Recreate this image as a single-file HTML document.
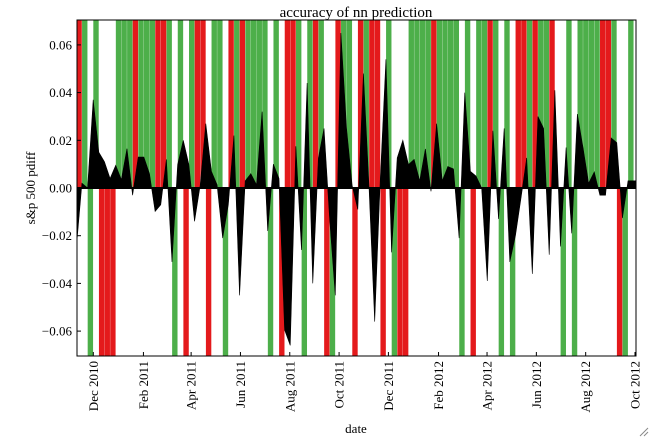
<!DOCTYPE html>
<html><head><meta charset="utf-8"><style>
body{margin:0;background:#fff;width:651px;height:438px;overflow:hidden}
svg text{font-family:"Liberation Serif",serif;fill:#000}
</style></head><body>
<svg id="chart" width="651" height="438" xmlns="http://www.w3.org/2000/svg">
<text x="356" y="17" font-size="15" text-anchor="middle">accuracy of nn prediction</text>
<g id="bars"></g>
<g id="series"></g>
<g id="axes"></g>
<text transform="translate(35,188) rotate(-90)" font-size="13" text-anchor="middle">s&amp;p 500 pdiff</text>
<text x="356" y="433" font-size="13" text-anchor="middle">date</text>
<g stroke="#888" stroke-width="1"><line x1="640" y1="436" x2="648" y2="428"/><line x1="644" y1="436" x2="648" y2="432"/></g>
</svg>
<script>
const values=[-0.022,0.002,0.000,0.037,0.015,0.011,0.004,0.0095,0.0035,0.0165,-0.003,0.013,0.013,0.006,-0.0098,-0.007,0.012,-0.031,0.0098,0.020,0.0098,-0.014,0.001,0.027,0.007,0.0014,-0.021,-0.007,0.022,-0.045,0.003,0.006,0.0014,0.032,-0.018,0.010,0.004,-0.0595,-0.066,0.0175,-0.026,0.044,-0.040,0.0126,0.025,-0.013,-0.045,0.065,0.025,0.001,-0.009,0.048,0.000,-0.056,0.004,0.054,-0.027,0.0126,0.020,0.0098,0.012,0.003,0.0164,-0.0014,0.027,0.003,0.009,0.008,-0.021,0.040,0.007,0.005,0.000,-0.039,0.024,-0.013,0.025,-0.031,-0.020,-0.004,0.0126,-0.036,0.030,0.025,-0.028,0.041,-0.0245,0.017,-0.019,0.031,0.017,0.002,0.0067,-0.003,-0.003,0.021,0.019,-0.0126,0.003,0.003];
// bar code per week: T/B = top/bottom half, g/r = correct/incorrect, n = none
const barCodes=["Tr","Tg","Bg","Tg","Br","Br","Br","Tg","Tg","Tg",
"Tr","Tg","Tg","Tg","Tr","Tr","Tg","Bg","Tg","Br",
"Tg","Tr","Tr","Br","Tg","Tg","Bg","Tr","Tg","Tr",
"Tg","Tg","Tg","Tg","Bg","Tg","Br","Tr","Tr","Tg",
"Bg","Tg","Tr","Tg","Br","Bg","Tr","Tg","Tg","Br",
"Tr","Tg","Tr","Tr","Br","Tg","Bg","Br","Br","Tg",
"Tg","Tg","Tg","Tr","Tg","Tg","Tg","Tg","Bg","Tg",
"Br","Tg","Tg","Tr","Tg","Bg","Tg","Bg","Tr","Tr",
"Tg","Tr","Tg","Tg","Tr","n","Bg","Tg","Bg","Tg",
"Tg","Tg","Tg","Tr","Tr","Tg","Br","Bg","Tg","n"];
const yTicks=[0.06,0.04,0.02,0.00,-0.02,-0.04,-0.06];
const yTickLabels=["0.06","0.04","0.02","0.00","\u22120.02","\u22120.04","\u22120.06"];
const xTickDays=[0,62,121,182,243,304,365,427,487,548,609,670];
const xTickLabels=["Dec 2010","Feb 2011","Apr 2011","Jun 2011","Aug 2011","Oct 2011","Dec 2011","Feb 2012","Apr 2012","Jun 2012","Aug 2012","Oct 2012"];
const NS="http://www.w3.org/2000/svg";
const L=77,R=636,T=20,B=356;
const y=v=>188-v/0.02*47.7;
const xi=i=>76.3+i*5.63;
const xd=d=>93.3+d*0.8085;
function mk(t,a,p){const e=document.createElementNS(NS,t);for(const k in a)e.setAttribute(k,a[k]);p.appendChild(e);return e;}
const bars=document.getElementById('bars');
for(let i=0;i<barCodes.length;i++){
  const c=barCodes[i];if(c==='n')continue;
  const x0=Math.max(L,xi(i)),x1=Math.min(xi(i+1),R);
  if(x1<=x0)continue;
  const top=c[0]==='T';
  const r=mk('rect',{x:x0+0.12,y:top?T:y(0),width:Math.max(0,x1-x0-0.24),height:top?y(0)-T:B-y(0),fill:c[1]==='g'?'#4daf4a':'#e41a1c'},bars);
  
  
}
const ser=document.getElementById('series');
let d=`M${L},${y(0)} L${L},${y(values[0])}`;
values.forEach((v,i)=>{d+=` L${Math.max(L,xi(i))},${y(v)}`;});
d+=` L${R},${y(values[values.length-1])} L${R},${y(0)} Z`;
const p=mk('path',{d:d,fill:'#000',stroke:'#000','stroke-width':0.6},ser);


const zl=mk('line',{x1:L,x2:R,y1:y(0),y2:y(0),stroke:'#000','stroke-width':2},ser);


const ax=document.getElementById('axes');
const fr=mk('rect',{x:L,y:T,width:R-L,height:B-T,fill:'none',stroke:'#000','stroke-width':1},ax);


yTicks.forEach((v,i)=>{
  const tk=mk('line',{x1:L,x2:L+4,y1:y(v),y2:y(v),stroke:'#000'},ax);
  
  
  const t=mk('text',{x:L-5,y:y(v)+4.5,'font-size':13,'text-anchor':'end'},ax);
  t.textContent=yTickLabels[i];
  
  
});
xTickDays.forEach((dd,i)=>{
  const x=xd(dd);
  const tk=mk('line',{x1:x,x2:x,y1:B,y2:B-4,stroke:'#000'},ax);
  
  
  const t=mk('text',{transform:`translate(${x+4.5},${B+5}) rotate(-90)`,'font-size':13,'text-anchor':'end'},ax);
  t.textContent=xTickLabels[i];
  
  
});
</script>
</body></html>
